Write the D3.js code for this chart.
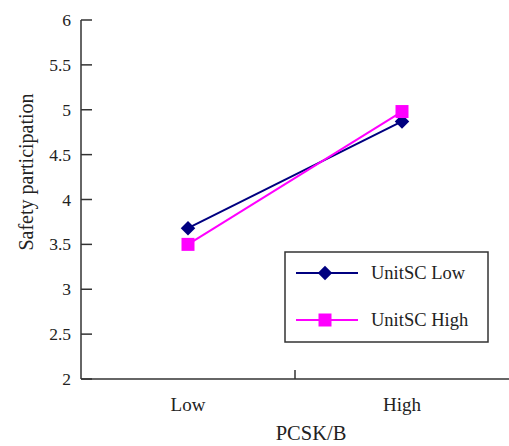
<!DOCTYPE html>
<html><head><meta charset="utf-8">
<script src="https://cdn.jsdelivr.net/npm/d3@7"></script>
<style>body{margin:0;background:#fff}svg{display:block}text{font-family:"Liberation Serif","Times New Roman",serif;fill:#222}</style>
</head><body><svg id="c" width="509" height="446"></svg>
<script>
const categories = ["Low", "High"];
const seriesNames = ["UnitSC Low", "UnitSC High"];
const unitscLow = [3.68, 4.87];
const unitscHigh = [3.50, 4.98];
const yTicks = [2, 2.5, 3, 3.5, 4, 4.5, 5, 5.5, 6];
const colors = ["#000080", "#ff00ff"];

const svg = d3.select("#c");
const x = d3.scaleBand().domain(categories).range([81, 509]);
const y = d3.scaleLinear().domain([2, 6]).range([379, 20]);

// y axis
svg.append("line").attr("x1", 81).attr("x2", 81).attr("y1", y(6)).attr("y2", y(2)).attr("stroke", "#333").attr("stroke-width", 1.5);
svg.selectAll(".yt").data(yTicks).enter().append("line")
  .attr("x1", 81).attr("x2", 92).attr("y1", d => y(d)).attr("y2", d => y(d)).attr("stroke", "#333").attr("stroke-width", 1.5);
svg.selectAll(".yl").data(yTicks).enter().append("text")
  .attr("x", 71).attr("y", d => y(d) + 6).attr("text-anchor", "end").attr("font-size", 17.5).text(d => d);
// x axis
svg.append("line").attr("x1", 81).attr("x2", 509).attr("y1", y(2)).attr("y2", y(2)).attr("stroke", "#333").attr("stroke-width", 1.5);
svg.append("line").attr("x1", x("High")).attr("x2", x("High")).attr("y1", y(2)).attr("y2", y(2) - 9).attr("stroke", "#333").attr("stroke-width", 1.5);
svg.selectAll(".xl").data(categories).enter().append("text")
  .attr("x", d => x(d) + x.bandwidth() / 2).attr("y", 411).attr("text-anchor", "middle").attr("font-size", 19).text(d => d);
svg.append("text").attr("x", 311).attr("y", 440).attr("text-anchor", "middle").attr("font-size", 20.5).text("PCSK/B");
svg.append("text").attr("transform", "translate(33,172) rotate(-90)").attr("text-anchor", "middle").attr("font-size", 20).text("Safety participation");

const cx = d => x(d) + x.bandwidth() / 2;
const series = [unitscLow, unitscHigh];
const line = d3.line().x((d, i) => cx(categories[i])).y(d => y(d));
const diamond = d3.symbol().type(d3.symbolSquare).size(105);
const square = d3.symbol().type(d3.symbolSquare).size(169);

series.forEach((s, k) => {
  svg.append("path").attr("d", line(s)).attr("fill", "none").attr("stroke", colors[k]).attr("stroke-width", 2);
});
series.forEach((s, k) => {
  svg.selectAll(".m" + k).data(s).enter().append("path")
    .attr("transform", (d, i) => `translate(${cx(categories[i])},${y(d)})` + (k === 0 ? " rotate(45)" : ""))
    .attr("d", k === 0 ? diamond : square).attr("fill", colors[k]);
});

// legend
svg.append("rect").attr("x", 285).attr("y", 252).attr("width", 203).attr("height", 90).attr("fill", "#fff").attr("stroke", "#333").attr("stroke-width", 1.5);
const rows = [273, 320];
seriesNames.forEach((n, k) => {
  svg.append("line").attr("x1", 296).attr("x2", 358).attr("y1", rows[k]).attr("y2", rows[k]).attr("stroke", colors[k]).attr("stroke-width", 2);
  svg.append("path").attr("transform", `translate(325,${rows[k]})` + (k === 0 ? " rotate(45)" : "")).attr("d", k === 0 ? diamond : square).attr("fill", colors[k]);
  svg.append("text").attr("x", 371).attr("y", rows[k] + 6).attr("font-size", 18.5).text(n);
});
</script></body></html>
